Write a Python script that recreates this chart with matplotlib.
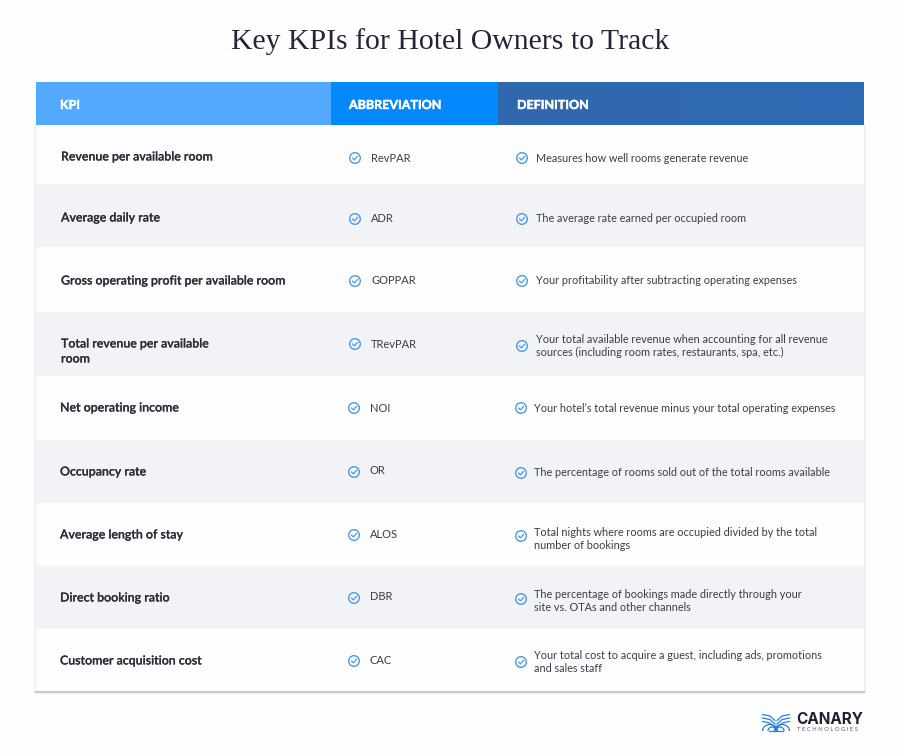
import numpy as np
import matplotlib.pyplot as plt
import matplotlib.patheffects as pe
from matplotlib.colors import LinearSegmentedColormap
from matplotlib.patches import Rectangle, Circle, Arc

kpis = ["Revenue per available room", "Average daily rate", "Gross operating profit per available room",
        "Total revenue per available\nroom", "Net operating income", "Occupancy rate",
        "Average length of stay", "Direct booking ratio", "Customer acquisition cost"]
abbrevs = ["RevPAR", "ADR", "GOPPAR", "TRevPAR", "NOI", "OR", "ALOS", "DBR", "CAC"]
definitions = ["Measures how well rooms generate revenue",
               "The average rate earned per occupied room",
               "Your profitability after subtracting operating expenses",
               "Your total available revenue when accounting for all revenue\nsources (including room rates, restaurants, spa, etc.)",
               "Your hotel\u2019s total revenue minus your total operating expenses",
               "The percentage of rooms sold out of the total rooms available",
               "Total nights where rooms are occupied divided by the total\nnumber of bookings",
               "The percentage of bookings made directly through your\nsite vs. OTAs and other channels",
               "Your total cost to acquire a guest, including ads, promotions\nand sales staff"]
headers = ["KPI", "ABBREVIATION", "DEFINITION"]

# row layout in image pixels
row_edges = [125, 184, 247, 312, 376, 440, 503, 566, 629, 692]
kpi_x = [61, 61, 61, 61, 60, 60, 60, 60, 60]
kpi_y = [157, 218, 281, 351.5, 408, 472, 535, 598, 661]
abbr_icon_x = [355, 355, 355, 355, 354, 354, 354, 354, 354]
abbr_icon_y = [158, 219, 281, 344, 408, 472, 535, 598, 661]
abbr_text_y = [158, 219, 281, 344, 408, 471, 534, 597, 660]
def_icon_x = [522, 522, 522, 522, 521, 521, 521, 521, 521]
def_icon_y = [158, 219, 281, 346, 408, 473, 536, 599, 662]
def_text_y = [158, 219, 281, 346, 408, 473, 539, 601, 662]

plt.rcParams['font.family'] = ['Lato', 'DejaVu Sans']
TEXT = "#2b2e3a"
BLUE = "#4a9be0"

fig = plt.figure(figsize=(9, 7.55), dpi=100, facecolor="#fefefe")
ax = fig.add_axes([0, 0, 1, 1])
ax.set_xlim(0, 900)
ax.set_ylim(755, 0)
ax.axis("off")

ax.text(450, 42, "Key KPIs for Hotel Owners to Track", ha="center", va="center",
        fontsize=21.4, color="#23263a", family=["Liberation Serif", "DejaVu Serif"])

# soft shadow around table
for i, a in enumerate([0.03, 0.05, 0.07]):
    g = 3 - i
    ax.add_patch(Rectangle((36 - g, 125), 828 + 2 * g, 567 + g, fc="#8a8fa0", ec="none", alpha=a, zorder=0))

# header cells
ax.add_patch(Rectangle((36, 82), 295, 43, fc="#53a9fd", ec="none", zorder=2))
ax.add_patch(Rectangle((331, 82), 167, 43, fc="#0488fe", ec="none", zorder=2))
dx = np.linspace(0, 1, 256).reshape(1, -1)
ax.imshow(dx, extent=(498, 864, 125, 82), cmap=LinearSegmentedColormap.from_list("hdr", ["#3068ae", "#2f6ab4"]),
          aspect="auto", zorder=2)
ax.set_xlim(0, 900)
ax.set_ylim(755, 0)
for x, h in zip([60, 349, 517], headers):
    ax.text(x, 105, h, ha="left", va="center", fontsize=9, fontweight="bold", color="white", zorder=3,
            path_effects=[pe.withStroke(linewidth=0.3, foreground="white")])


def check(cx, cy):
    ax.add_patch(Circle((cx, cy), 5.3, fc="none", ec=BLUE, lw=1.0, zorder=3))
    ax.plot([cx - 2.4, cx - 0.6, cx + 2.6], [cy + 0.1, cy + 1.9, cy - 1.7], color=BLUE, lw=0.9, zorder=3)


for i in range(9):
    top, bot = row_edges[i], row_edges[i + 1]
    ax.add_patch(Rectangle((36, top), 828, bot - top, fc="#f2f3f6" if i % 2 else "#fefdfe", ec="none", zorder=1))
    ax.text(kpi_x[i], kpi_y[i], kpis[i], ha="left", va="center", fontsize=8.9, fontweight="semibold",
            color=TEXT, linespacing=1.45, zorder=3,
            path_effects=[pe.withStroke(linewidth=0.12, foreground=TEXT)])
    check(abbr_icon_x[i], abbr_icon_y[i])
    ax.text(abbr_icon_x[i] + 16, abbr_text_y[i], abbrevs[i], ha="left", va="center", fontsize=8.0, color="#3a3d48", zorder=3)
    check(def_icon_x[i], def_icon_y[i])
    ax.text(def_icon_x[i] + 13.5, def_text_y[i], definitions[i], ha="left", va="center", fontsize=7.8, color="#3a3d48",
            linespacing=1.15, zorder=3)

ax.plot([36, 864], [692, 692], color="#c9cacf", lw=1.5, zorder=3)

# logo
LOGO = "#2a80dc"
for side in (-1, 1):
    for yy in (714.5, 718, 721.5):
        ax.plot([776 + side * 1, 776 + side * 6, 776 + side * 13.5], [yy + 6, yy + 1.5, yy], color=LOGO, lw=0.9, zorder=3)
    ax.add_patch(Arc((776 + side * 6, 731), 15, 13, theta1=180, theta2=360, color=LOGO, lw=0.9, zorder=3))
    ax.add_patch(Arc((776 + side * 4, 731), 8, 8, theta1=180, theta2=360, color=LOGO, lw=0.9, zorder=3))
ax.plot([769, 783], [730.8, 730.8], color=LOGO, lw=0.9, zorder=3)
ax.text(796, 720, "CANARY", ha="left", va="center", fontsize=11, fontweight="bold", color="#1e2230",
        family=["Inter", "DejaVu Sans"], zorder=3)
ax.text(797, 729.5, "T E C H N O L O G I E S", ha="left", va="center", fontsize=4.2, color="#555a66", zorder=3)

fig.savefig("out.png", dpi=100, facecolor=fig.get_facecolor())
